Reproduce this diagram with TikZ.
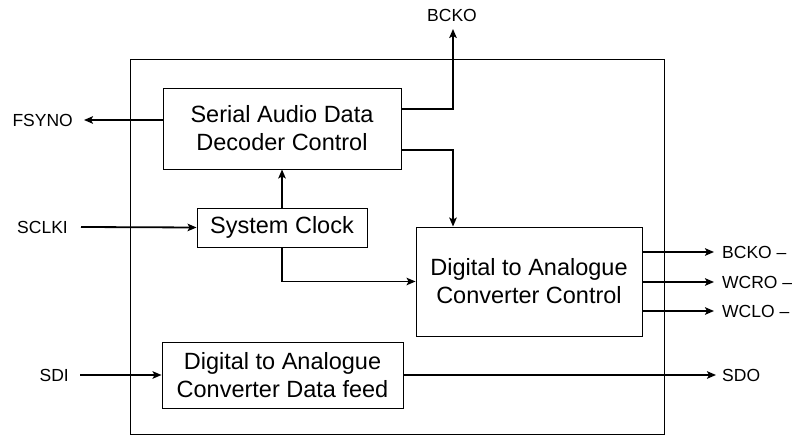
\documentclass[tikz,border=0pt]{standalone}
\usepackage{fontspec}
\setmainfont{Liberation Sans}
\usetikzlibrary{arrows.meta,calc}
\begin{document}
\begin{tikzpicture}[x=1pt,y=-1pt,
  blk/.style={draw,line width=0.9pt,inner sep=0pt,align=center,
    font=\fontsize{23.5}{28}\selectfont},
  lbl/.style={inner sep=0pt,font=\fontsize{17.5}{20}\selectfont},
  conn/.style={line width=1.8pt},
  arr/.style={conn,-{Stealth[length=9pt,width=7.5pt,inset=2pt]}}]
\useasboundingbox (0,0) rectangle (795,435);
% outer frame
\draw[line width=0.9pt] (130,59) rectangle (664,434);
% blocks
\node[blk,minimum width=238pt,minimum height=81pt] (sad) at (282,128.5) {Serial Audio Data\\Decoder Control};
\node[blk,minimum width=170pt,minimum height=39pt] (clk) at (282,227.5) {System Clock};
\node[blk,minimum width=226pt,minimum height=109pt] (dacc) at (529,281.5) {Digital to Analogue\\Converter Control};
\node[blk,minimum width=241pt,minimum height=66pt] (dacf) at (282.5,375) {Digital to Analogue\\Converter Data feed};
% labels
\node[lbl,anchor=east] (fsyno) at (73,120) {FSYNO};
\node[lbl] (bcko) at (452,15) {BCKO};
\node[lbl,anchor=east] (sclki) at (68,227) {SCLKI};
\node[lbl,anchor=east] (sdi) at (69,375) {SDI};
\node[lbl,anchor=west] (bckom) at (722,252) {BCKO –};
\node[lbl,anchor=west] (wcro) at (722,282) {WCRO –};
\node[lbl,anchor=west] (wclo) at (722,311) {WCLO –};
\node[lbl,anchor=west] (sdo) at (722,375) {SDO};
% coordinates
\coordinate (fsyE) at (84,120);
\coordinate (bckoTip) at (453,29);
\coordinate (sclkiS) at (81,227);
\coordinate (sdiS) at (80,375);
\coordinate (sdoT) at (716,375);
\coordinate (o1) at (714,252);
\coordinate (o2) at (714,282);
\coordinate (o3) at (714,311);
% connectors
\draw[arr] (sad.west |- fsyE) -- (fsyE);
\draw[arr] (sad.east |- 0,109) -| (bckoTip);
\draw[arr] (sad.east |- 0,150) -| (dacc.north -| bckoTip);
\draw[arr] (clk.north) -- (sad.south);
\draw[arr] (clk.south) |- (dacc.west);
\draw[arr] (sclkiS) -- (clk.west);
\draw[arr] (sdiS) -- (dacf.west);
\draw[arr] (dacf.east) -- (sdoT);
\draw[arr] (dacc.east |- o1) -- (o1);
\draw[arr] (dacc.east |- o2) -- (o2);
\draw[arr] (dacc.east |- o3) -- (o3);
\end{tikzpicture}
\end{document}
